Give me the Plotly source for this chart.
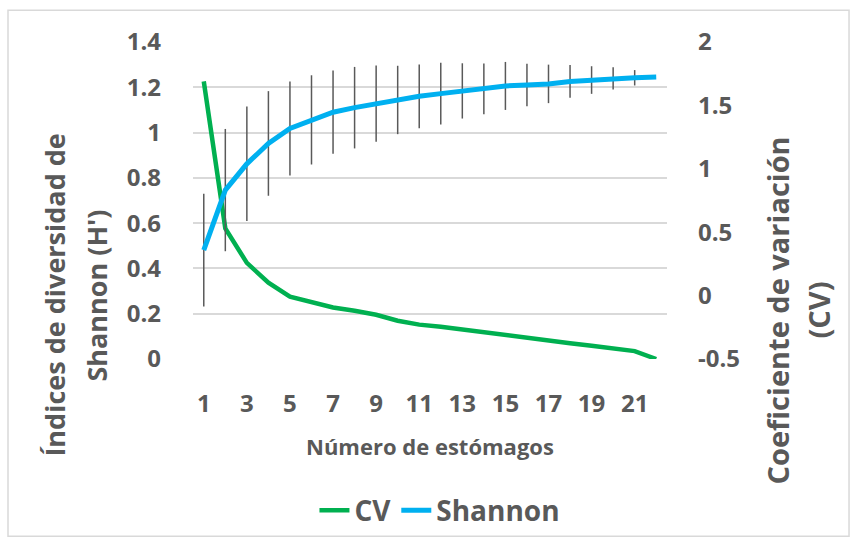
import plotly.graph_objects as go

# ---- data ----
estomagos = list(range(1, 23))
shannon = [0.481, 0.746, 0.862, 0.952, 1.018, 1.056, 1.09, 1.11, 1.128, 1.144, 1.16,
           1.172, 1.184, 1.193, 1.206, 1.21, 1.215, 1.226, 1.232, 1.239, 1.242, 1.245]
shannon_err = [0.249, 0.27, 0.253, 0.231, 0.208, 0.197, 0.184, 0.18, 0.168, 0.151, 0.141,
               0.136, 0.122, 0.112, 0.106, 0.094, 0.085, 0.072, 0.061, 0.049, 0.034, 0.0]
cv = [1.69, 0.53, 0.258, 0.102, -0.008, -0.055, -0.094, -0.12, -0.151, -0.198, -0.229,
      -0.245, -0.268, -0.289, -0.31, -0.333, -0.354, -0.375, -0.396, -0.414, -0.4375, -0.5]
x_ticks = [1, 3, 5, 7, 9, 11, 13, 15, 17, 19, 21]
left_ticks = [0, 0.2, 0.4, 0.6, 0.8, 1, 1.2, 1.4]
left_ticktext = ["0", "0.2", "0.4", "0.6", "0.8", "1", "1.2", "1.4"]
right_ticks = [-0.5, 0, 0.5, 1, 1.5, 2]
right_ticktext = ["-0.5", "0", "0.5", "1", "1.5", "2"]

GREY = "#595959"
FONT = "Open Sans"

fig = go.Figure()
fig.add_trace(go.Scatter(
    x=estomagos, y=cv, name="CV", mode="lines", yaxis="y",
    line=dict(color="#00B050", width=4.5),
))
fig.add_trace(go.Scatter(
    x=estomagos, y=shannon, name="Shannon", mode="lines", yaxis="y2",
    line=dict(color="#00B0F0", width=5),
    error_y=dict(type="data", array=shannon_err, visible=True,
                 color=GREY, thickness=1.5, width=0),
))

tickfont = dict(family=FONT, size=24, color=GREY, weight=700)


def title_font(size):
    return dict(family=FONT, size=size, color=GREY, weight=700)


fig.update_layout(
    width=856, height=548,
    margin=dict(l=193, r=189, t=42, b=186),
    paper_bgcolor="white", plot_bgcolor="white",
    showlegend=True,
    legend=dict(orientation="h", x=0.521, xanchor="center", y=-0.478, yanchor="middle",
                font=dict(family=FONT, size=28, color=GREY, weight=700),
                itemwidth=30, bgcolor="rgba(0,0,0,0)"),
    xaxis=dict(range=[0.5, 22.5], tickmode="array", tickvals=x_ticks,
               ticktext=[str(v) for v in x_ticks], showgrid=False, zeroline=False,
               showline=False, ticks="", tickfont=tickfont, ticklabelstandoff=28),
    yaxis=dict(range=[-0.5, 2], side="right", tickmode="array", tickvals=right_ticks,
               ticktext=right_ticktext, showgrid=False, zeroline=False, showline=False,
               ticks="", tickfont=tickfont, ticklabelstandoff=30),
    yaxis2=dict(range=[0, 1.4], side="left", overlaying="y", tickmode="array",
                tickvals=left_ticks, ticktext=left_ticktext, showgrid=True,
                gridcolor="#d9d9d9", gridwidth=1.5, zeroline=False, showline=False,
                ticks="", tickfont=tickfont, ticklabelstandoff=31),
    shapes=[dict(type="rect", xref="paper", yref="paper",
                 x0=-0.3903, x1=1.3840, y0=-0.5594, y1=1.1,
                 line=dict(color="#d9d9d9", width=1.5), fillcolor="rgba(0,0,0,0)",
                 layer="below")],
    annotations=[
        dict(text="Índices de diversidad de", xref="paper", yref="paper",
             x=-0.2911, y=0.2, xanchor="center", yanchor="middle", textangle=-90,
             showarrow=False, font=title_font(27)),
        dict(text="Shannon (H')", xref="paper", yref="paper",
             x=-0.2025, y=0.2, xanchor="center", yanchor="middle", textangle=-90,
             showarrow=False, font=title_font(27)),
        dict(text="Coeficiente de variación", xref="paper", yref="paper",
             x=1.2321, y=0.153, xanchor="center", yanchor="middle", textangle=-90,
             showarrow=False, font=title_font(29)),
        dict(text="(CV)", xref="paper", yref="paper",
             x=1.3186, y=0.153, xanchor="center", yanchor="middle", textangle=-90,
             showarrow=False, font=title_font(29)),
        dict(text="Número de estómagos", xref="paper", yref="paper",
             x=0.5, y=-0.275, xanchor="center", yanchor="middle",
             showarrow=False, font=title_font(22)),
    ],
)

fig.write_html("out.html")
